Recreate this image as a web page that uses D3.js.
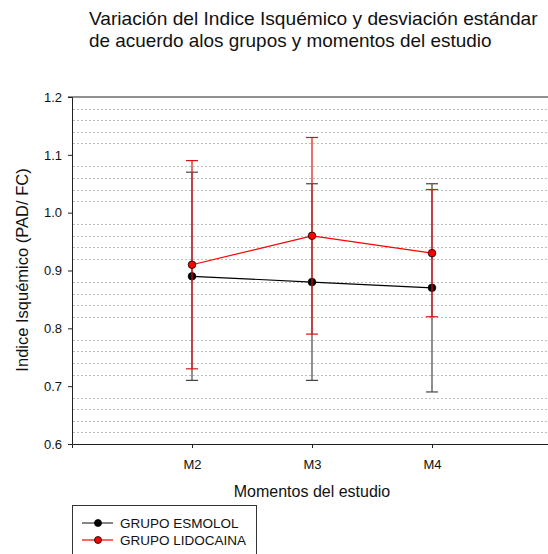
<!DOCTYPE html>
<html><head><meta charset="utf-8">
<script src="https://cdn.jsdelivr.net/npm/d3@7"></script>
<style>
body{margin:0;background:#fff;}
svg{display:block;font-family:"Liberation Sans",Arial,sans-serif;}
</style></head><body>
<script>
const categories = ["M2","M3","M4"];
const seriesNames = ["GRUPO ESMOLOL","GRUPO LIDOCAINA"];
const esmololMean = [0.89,0.88,0.87];
const esmololSD   = [0.18,0.17,0.18];
const lidoMean    = [0.91,0.96,0.93];
const lidoSD      = [0.18,0.17,0.11];
const yTicks = [0.6,0.7,0.8,0.9,1.0,1.1,1.2];
const titleLines = ["Variación del Indice Isquémico y desviación estándar","de acuerdo alos grupos y momentos del estudio"];

const W=548,H=554;
const svg=d3.select("body").append("svg").attr("width",W).attr("height",H);

const x=d3.scaleLinear().domain([0,4]).range([72,552]);
const y=d3.scaleLinear().domain([0.6,1.2]).range([444,97]);

// minor gridlines (every 0.02, skipping majors)
const minor=d3.range(0.62,1.2,0.02).map(v=>+v.toFixed(2)).filter(v=>Math.abs(v*10-Math.round(v*10))>1e-6);
svg.append("g").selectAll("line").data(minor).join("line")
  .attr("x1",73).attr("x2",W).attr("y1",d=>Math.round(y(d))+0.5).attr("y2",d=>Math.round(y(d))+0.5)
  .attr("stroke","#bdbdbd").attr("stroke-width",1).attr("stroke-dasharray","2,2");

// top frame
svg.append("line").attr("x1",68).attr("x2",W).attr("y1",y(1.2)).attr("y2",y(1.2)).attr("stroke","#222").attr("stroke-width",1.2);

// y axis
const yAxis=svg.append("g").attr("transform","translate(72,0)")
  .call(d3.axisLeft(y).tickValues(yTicks).tickFormat(d3.format(".1f")).tickSizeOuter(0).tickSize(4).tickPadding(6));
yAxis.select(".domain").attr("stroke","#222");
yAxis.selectAll("text").attr("font-size",13).attr("fill","#111").attr("font-family","Liberation Sans, Arial, sans-serif");
yAxis.selectAll(".tick line").attr("stroke","#222");

// x axis
const xAxis=svg.append("g").attr("transform","translate(0,444)")
  .call(d3.axisBottom(x).tickValues([1,2,3]).tickFormat((d,i)=>categories[i]).tickSizeOuter(0).tickSize(4).tickPadding(12));
xAxis.select(".domain").attr("stroke","#222");
xAxis.selectAll("text").attr("font-size",13).attr("fill","#111").attr("font-family","Liberation Sans, Arial, sans-serif");
xAxis.selectAll(".tick line").attr("stroke","#222");

// series
function drawSeries(mean,sd,lineColor,barColor,fill){
  const g=svg.append("g");
  const data=mean.map((m,i)=>({x:i+1,m,lo:m-sd[i],hi:m+sd[i]}));
  g.selectAll("line.eb").data(data).join("line").attr("class","eb")
    .attr("x1",d=>x(d.x)).attr("x2",d=>x(d.x)).attr("y1",d=>y(d.lo)).attr("y2",d=>y(d.hi))
    .attr("stroke",barColor).attr("stroke-width",1.2);
  ["lo","hi"].forEach(k=>{
    g.selectAll("line.cap"+k).data(data).join("line").attr("class","cap"+k)
      .attr("x1",d=>x(d.x)-6).attr("x2",d=>x(d.x)+6).attr("y1",d=>y(d[k])).attr("y2",d=>y(d[k]))
      .attr("stroke",barColor).attr("stroke-width",1.2);
  });
  g.append("path").datum(data).attr("fill","none").attr("stroke",lineColor).attr("stroke-width",1.2)
    .attr("d",d3.line().x(d=>x(d.x)).y(d=>y(d.m)));
  g.selectAll("circle").data(data).join("circle")
    .attr("cx",d=>x(d.x)).attr("cy",d=>y(d.m)).attr("r",3.8)
    .attr("fill",fill).attr("stroke","#000").attr("stroke-width",0.8);
}
drawSeries(esmololMean,esmololSD,"#000","#444","#000");
drawSeries(lidoMean,lidoSD,"#ff0000","#e01010","#ff0000");

// title (fit to reference widths)
const titleWidths=[449,403];
titleLines.forEach((t,i)=>{
  const el=svg.append("text").attr("x",89).attr("y",25+i*22).attr("font-size",18).attr("fill","#111").text(t);
  const len=el.node().getComputedTextLength();
  el.attr("font-size",18*titleWidths[i]/len);
});

// axis labels
svg.append("text").attr("x",312).attr("y",497).attr("text-anchor","middle").attr("font-size",16).attr("fill","#111").text("Momentos del estudio");
svg.append("text").attr("transform","translate(28,270) rotate(-90)").attr("text-anchor","middle").attr("font-size",16.5).attr("fill","#111").text("Indice Isquémico (PAD/ FC)");

// legend
const lg=svg.append("g");
lg.append("rect").attr("x",72.5).attr("y",505.5).attr("width",184).attr("height",60).attr("fill","#fff").attr("stroke","#333");
const legColors=[{f:"#000"},{f:"#ff0000"}];
seriesNames.forEach((n,i)=>{
  const yy=523+i*17;
  lg.append("line").attr("x1",82).attr("x2",113).attr("y1",yy).attr("y2",yy).attr("stroke",i==0?"#333":"#ff0000").attr("stroke-width",1.2);
  lg.append("circle").attr("cx",98).attr("cy",yy).attr("r",3.5).attr("fill",legColors[i].f).attr("stroke","#000").attr("stroke-width",0.8);
  lg.append("text").attr("x",120).attr("y",yy+4.5).attr("font-size",13.5).attr("fill","#111").text(n);
});
</script>
</body></html>
